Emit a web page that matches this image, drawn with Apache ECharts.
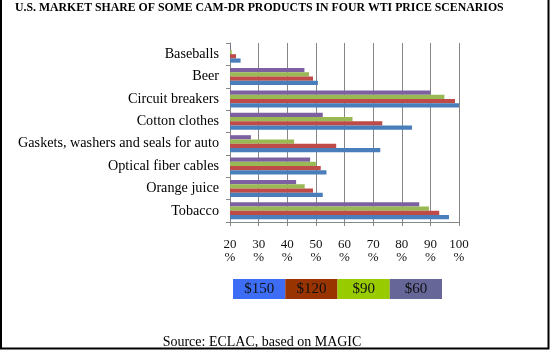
<!DOCTYPE html>
<html>
<head>
<meta charset="utf-8">
<script src="https://cdn.jsdelivr.net/npm/echarts@6/dist/echarts.min.js"></script>
<style>
html,body{margin:0;padding:0;background:#fff;}
#chart{width:550px;height:350px;}
</style>
</head>
<body>
<div id="chart"></div>
<script>
var categories = ['Baseballs', 'Beer', 'Circuit breakers', 'Cotton clothes', 'Gaskets, washers and seals for auto', 'Optical fiber cables', 'Orange juice', 'Tobacco'];
var seriesNames = ['$150', '$120', '$90', '$60'];
var values150 = [23.7, 50.7, 100, 83.6, 72.5, 53.7, 52.4, 96.5];
var values120 = [22.1, 49.0, 98.6, 73.2, 57.1, 51.7, 49.0, 93.1];
var values90 = [20.6, 47.6, 94.9, 62.8, 42.4, 50.0, 46.1, 89.5];
var values60 = [20.2, 46.0, 90.0, 52.4, 27.3, 48.0, 43.1, 86.1];
var tickValues = [20, 30, 40, 50, 60, 70, 80, 90, 100];

var barColors = ['#4a7ebb', '#be4b48', '#98b954', '#7d60a0'];
var legendColors = ['#3d6df5', '#993300', '#99cc00', '#666699'];
var seriesData = [values150, values120, values90, values60];

var chart = echarts.init(document.getElementById('chart'));

// draw series so $60 is on top within each category (inverse y axis)
var series = [];
for (var k = 3; k >= 0; k--) {
  series.push({
    name: seriesNames[k],
    type: 'bar',
    data: seriesData[k],
    barGap: '0%',
    barCategoryGap: '24%',
    itemStyle: { color: barColors[k] },
    silent: true
  });
}

var legendGraphics = [];
var lx = 233, lw = 52.25;
for (var i = 0; i < seriesNames.length; i++) {
  legendGraphics.push({
    type: 'rect',
    shape: { x: lx + i * lw, y: 279, width: lw, height: 20 },
    style: { fill: legendColors[i] }
  });
  legendGraphics.push({
    type: 'text',
    x: lx + i * lw + lw / 2,
    y: 289.5,
    style: {
      text: seriesNames[i],
      fill: '#111',
      font: '15px "Liberation Serif", serif',
      textAlign: 'center',
      textVerticalAlign: 'middle'
    }
  });
}

var option = {
  animation: false,
  backgroundColor: '#fff',
  title: {
    text: 'U.S. MARKET SHARE OF SOME CAM-DR PRODUCTS IN FOUR WTI PRICE SCENARIOS',
    left: 15,
    top: 2,
    padding: 0,
    textStyle: {
      fontFamily: '"Liberation Serif", serif',
      fontWeight: 'bold',
      fontSize: 11.8,
      color: '#000'
    }
  },
  grid: { left: 230, right: 91, top: 43, bottom: 128, containLabel: false },
  xAxis: {
    type: 'value',
    min: 20,
    max: 100,
    interval: 10,
    data: tickValues,
    axisLine: { show: true, lineStyle: { color: '#868686', width: 1 } },
    axisTick: { show: true, length: 4, lineStyle: { color: '#868686' } },
    splitLine: { show: true, lineStyle: { color: '#868686', width: 1 } },
    axisLabel: {
      margin: 16,
      formatter: function (v) { return v + '\n%'; },
      fontFamily: '"Liberation Serif", serif',
      fontSize: 13,
      lineHeight: 13,
      color: '#111'
    }
  },
  yAxis: {
    type: 'category',
    data: categories,
    inverse: true,
    axisLine: { show: true, lineStyle: { color: '#868686', width: 1 } },
    axisTick: { show: true, length: 4, lineStyle: { color: '#868686' } },
    axisLabel: {
      margin: 11,
      fontFamily: '"Liberation Serif", serif',
      fontSize: 14.2,
      color: '#000'
    }
  },
  series: series,
  graphic: legendGraphics.concat([
    {
      type: 'text',
      x: 262,
      y: 342,
      style: {
        text: 'Source: ECLAC, based on MAGIC',
        fill: '#000',
        font: '14px "Liberation Serif", serif',
        textAlign: 'center',
        textVerticalAlign: 'middle'
      }
    },
    {
      type: 'polyline',
      shape: { points: [[1, 0], [1, 348.5], [548.5, 348.5], [548.5, 0]] },
      style: { stroke: '#000', lineWidth: 2, fill: null }
    }
  ])
};
chart.setOption(option);
</script>
</body>
</html>
